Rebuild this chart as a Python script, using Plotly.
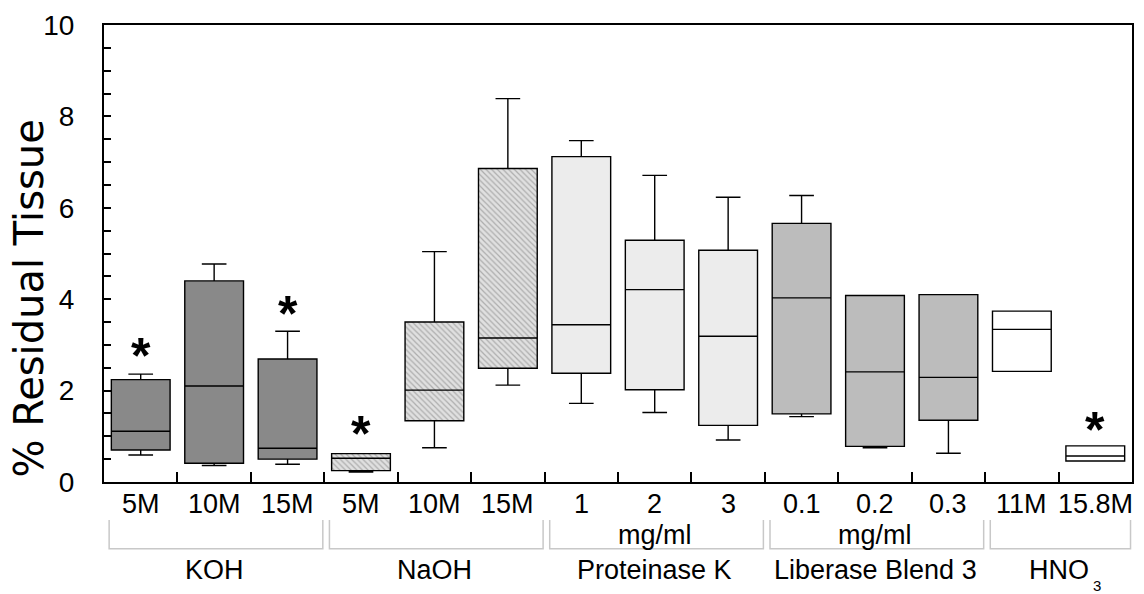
import plotly.graph_objects as go

# ---------------- data ----------------
categories = ["5M", "10M", "15M", "5M", "10M", "15M", "1", "2", "3",
              "0.1", "0.2", "0.3", "11M", "15.8M"]
lower_whisker = [0.59, 0.36, 0.39, 0.22, 0.75, 2.12, 1.72, 1.52, 0.92, 1.43, 0.75, 0.63, 2.42, 0.46]
q1_values     = [0.70, 0.41, 0.50, 0.25, 1.34, 2.49, 2.38, 2.02, 1.24, 1.49, 0.78, 1.35, 2.42, 0.46]
median_values = [1.11, 2.10, 0.74, 0.52, 2.01, 3.15, 3.44, 4.21, 3.19, 4.03, 2.41, 2.29, 3.34, 0.57]
q3_values     = [2.24, 4.40, 2.69, 0.62, 3.50, 6.86, 7.12, 5.29, 5.07, 5.66, 4.08, 4.10, 3.74, 0.79]
upper_whisker = [2.36, 4.77, 3.30, 0.62, 5.04, 8.39, 7.47, 6.71, 6.23, 6.27, 4.08, 4.10, 3.74, 0.79]

group_names = ["KOH", "NaOH", "Proteinase K", "Liberase Blend 3", "HNO"]
group_sizes = [3, 3, 3, 3, 2]
group_fill = ["#898989", "rgba(0,0,0,0)", "#ececec", "#bcbcbc", "#ffffff"]
unit_labels = {7: "mg/ml", 10: "mg/ml"}

star_index = [0, 2, 3, 13]
star_y = [2.92, 3.82, 1.20, 1.29]

y_ticks = [0, 2, 4, 6, 8, 10]

# ---------------- figure ----------------
FONT = "Liberation Sans, Arial, sans-serif"
fig = go.Figure()

x_pos = list(range(len(categories)))

# hatched background for NaOH boxes
start = 0
for gi, size in enumerate(group_sizes):
    idx = list(range(start, start + size))
    if group_names[gi] == "NaOH":
        fig.add_trace(go.Bar(
            x=[x_pos[i] for i in idx],
            base=[q1_values[i] for i in idx],
            y=[q3_values[i] - q1_values[i] for i in idx],
            width=0.8,
            marker=dict(color="#e0e0e0", line=dict(width=0),
                        pattern=dict(shape="\\", fgcolor="#7a7a7a", size=4, solidity=0.3)),
            showlegend=False, hoverinfo="skip"))
    start += size

start = 0
for gi, size in enumerate(group_sizes):
    idx = list(range(start, start + size))
    fig.add_trace(go.Box(
        x=[x_pos[i] for i in idx],
        q1=[q1_values[i] for i in idx],
        median=[median_values[i] for i in idx],
        q3=[q3_values[i] for i in idx],
        lowerfence=[lower_whisker[i] for i in idx],
        upperfence=[upper_whisker[i] for i in idx],
        width=0.8,
        whiskerwidth=0.42,
        fillcolor=group_fill[gi],
        line=dict(color="black", width=1.4),
        showlegend=False, hoverinfo="skip"))
    start += size

annotations = []
# significance stars
for i, yv in zip(star_index, star_y):
    annotations.append(dict(x=x_pos[i], y=yv, xref="x", yref="y", text="<b>*</b>",
                            showarrow=False, yshift=-7,
                            font=dict(size=50, family=FONT, color="black")))

# category labels
for i, c in enumerate(categories):
    annotations.append(dict(x=x_pos[i], y=0, xref="x", yref="paper", text=c,
                            showarrow=False, yanchor="middle", yshift=-22,
                            font=dict(size=27, family=FONT, color="black")))
for i, t in unit_labels.items():
    annotations.append(dict(x=x_pos[i], y=0, xref="x", yref="paper", text=t,
                            showarrow=False, yanchor="middle", yshift=-53,
                            font=dict(size=27, family=FONT, color="black")))

# group brackets and names
shapes = []
start = 0
for gi, size in enumerate(group_sizes):
    left = start - 0.5 + 0.07
    right = start + size - 0.5 - 0.02
    y_top = -38 / 458
    y_bot = -67 / 458
    shapes.append(dict(type="path", xref="x", yref="paper",
                       path=f"M {left},{y_top} L {left},{y_bot} L {right},{y_bot} L {right},{y_top}",
                       line=dict(color="#c8c8c8", width=1.5)))
    center = start + (size - 1) / 2
    annotations.append(dict(x=center, y=0, xref="x", yref="paper", text=group_names[gi],
                            showarrow=False, yanchor="middle", yshift=-88,
                            font=dict(size=27, family=FONT, color="black")))
    if group_names[gi] == "HNO":
        annotations.append(dict(x=center, y=0, xref="x", yref="paper", text="3",
                                showarrow=False, yanchor="middle", yshift=-103, xshift=38,
                                font=dict(size=15, family=FONT, color="black")))
    start += size

# y title
annotations.append(dict(x=-75 / 1030, y=(482 - 298) / 458, xref="paper", yref="paper",
                        text="% Residual Tissue", textangle=-90, showarrow=False,
                        xanchor="center", yanchor="middle",
                        font=dict(size=40, family="DejaVu Sans, sans-serif", color="black")))

fig.update_layout(
    width=1144, height=594,
    margin=dict(l=104, r=10, t=24, b=112),
    paper_bgcolor="white", plot_bgcolor="white",
    boxmode="overlay", barmode="overlay",
    showlegend=False,
    font=dict(family=FONT, size=27, color="black"),
    annotations=annotations,
    shapes=shapes,
)
fig.update_xaxes(
    range=[-0.5, len(categories) - 0.5],
    tickmode="array",
    tickvals=[k + 0.5 for k in range(len(categories) - 1)],
    showticklabels=False,
    ticks="inside", ticklen=10, tickwidth=2, tickcolor="black",
    showline=True, linecolor="black", linewidth=2, mirror=True,
    showgrid=False, zeroline=False,
)
fig.update_yaxes(
    range=[0, 10],
    tickmode="array", tickvals=y_ticks, ticktext=[str(v) for v in y_ticks],
    ticks="inside", ticklen=7, tickwidth=1.5, tickcolor="black",
    minor=dict(dtick=0.5, tick0=0, ticks="inside", ticklen=7, tickwidth=1.5, tickcolor="black", showgrid=False),
    ticklabelstandoff=22,
    tickfont=dict(size=28, family=FONT, color="black"),
    showline=True, linecolor="black", linewidth=2, mirror=True,
    showgrid=False, zeroline=False,
)

fig.write_html("out.html")
